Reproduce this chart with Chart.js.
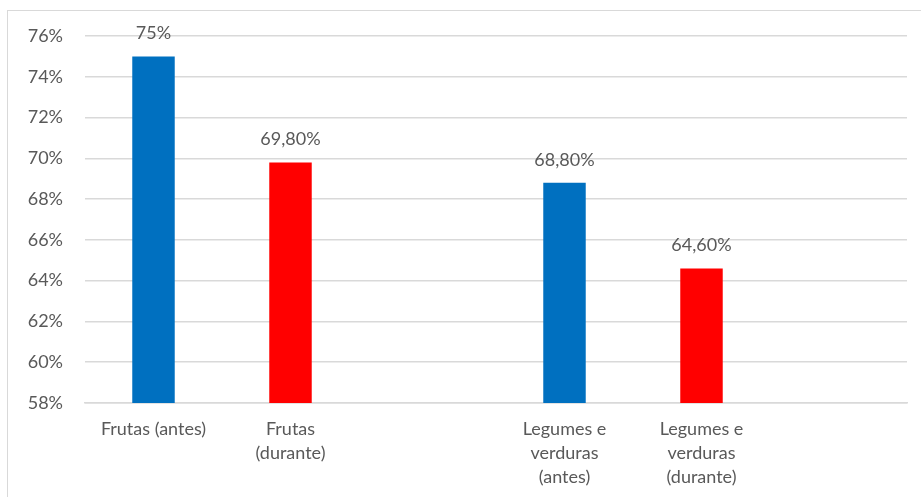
<!DOCTYPE html>
<html>
<head>
<meta charset="utf-8">
<script src="https://cdn.jsdelivr.net/npm/chart.js@4/dist/chart.umd.min.js"></script>
<style>
  html, body { margin: 0; padding: 0; background: #fff; overflow: hidden; }
  #wrap { position: relative; width: 921px; height: 497px; }
  #moldura {
    position: absolute; left: 7px; top: 10px; width: 2000px; height: 2000px;
    border: 1px solid #d9d9d9; pointer-events: none;
  }
  canvas { position: absolute; left: 0; top: 0; }
</style>
</head>
<body>
<div id="wrap">
  <div id="moldura"></div>
  <canvas id="grafico" width="921" height="497"></canvas>
</div>
<script>
// Categorias do eixo X (posições vazias separam os grupos)
const categorias = [
  'Frutas (antes)',
  ['Frutas', '(durante)'],
  '',
  ['Legumes e', 'verduras', '(antes)'],
  ['Legumes e', 'verduras', '(durante)'],
  ''
];

// Percentual de consumo
const valores = [75, 69.8, null, 68.8, 64.6, null];

// Cores das barras: azul = antes, vermelho = durante
const cores = ['#0070c0', '#ff0000', '#0070c0', '#0070c0', '#ff0000', '#ff0000'];

// Escala do eixo Y
const yMin = 58;
const yMax = 76;
const yPasso = 2;

const corTexto = '#595959';
const corGrade = '#d9d9d9';
const fonte = 'Lato, "Open Sans", sans-serif';

// formata como no rótulo: inteiro sem casas, senão com vírgula e duas casas
function formatar(v) {
  if (Number.isInteger(v)) return v + '%';
  return v.toFixed(2).replace('.', ',') + '%';
}

// Rótulos de valor acima de cada barra
const rotulosValor = {
  id: 'rotulosValor',
  afterDatasetsDraw(chart) {
    const ctx = chart.ctx;
    const meta = chart.getDatasetMeta(0);
    ctx.save();
    ctx.fillStyle = corTexto;
    ctx.font = '18px ' + fonte;
    ctx.textAlign = 'center';
    ctx.textBaseline = 'middle';
    meta.data.forEach((bar, i) => {
      const v = valores[i];
      if (v === null) return;
      ctx.fillText(formatar(v), bar.x, bar.y - 23);
    });
    ctx.restore();
  }
};

new Chart(document.getElementById('grafico'), {
  type: 'bar',
  data: {
    labels: categorias,
    datasets: [{
      data: valores,
      backgroundColor: cores,
      borderWidth: 0,
      barPercentage: 0.31,
      categoryPercentage: 1
    }]
  },
  options: {
    responsive: false,
    animation: false,
    layout: { padding: { top: 36, right: 14, bottom: 0, left: 0 } },
    plugins: {
      legend: { display: false },
      tooltip: { enabled: false }
    },
    scales: {
      x: {
        grid: { display: false },
        border: { display: true, color: corGrade, width: 1.5 },
        ticks: {
          color: corTexto,
          font: { family: fonte, size: 18, lineHeight: 1.33 },
          padding: 6,
          maxRotation: 0,
          autoSkip: false
        },
        afterFit(axis) { axis.height = 94; }
      },
      y: {
        min: yMin,
        max: yMax,
        grid: { color: corGrade, lineWidth: 1.5, drawTicks: false },
        border: { display: false },
        ticks: {
          stepSize: yPasso,
          color: corTexto,
          font: { family: fonte, size: 18 },
          padding: 22,
          callback: (v) => v + '%'
        },
        afterFit(axis) { axis.width = 85; }
      }
    }
  },
  plugins: [rotulosValor]
});
</script>
</body>
</html>
